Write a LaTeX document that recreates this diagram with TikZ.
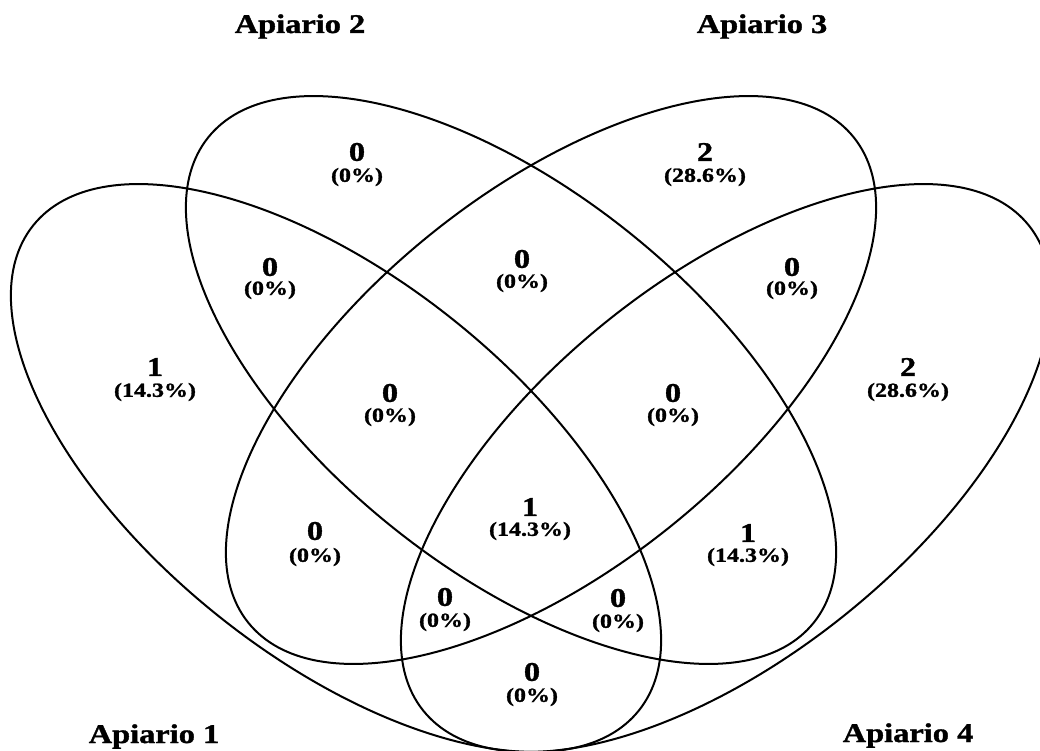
\documentclass[tikz,border=0pt]{standalone}
\usepackage{fontspec}
\setmainfont{Liberation Serif}[BoldFeatures={FakeBold=1.2}]
\usetikzlibrary{shapes.geometric}
\begin{document}
\begin{tikzpicture}[x=1pt,y=-1pt,
  venn/.style={draw, ellipse, line width=2pt, minimum width=776pt, minimum height=378pt, inner sep=0pt},
  settitle/.style={font=\fontsize{27}{30}\bfseries\selectfont, xscale=1.2, transform shape, anchor=base, inner sep=0pt},
  numlab/.style={font=\fontsize{27}{30}\bfseries\selectfont, xscale=1.2, transform shape, inner sep=0pt},
  pctlab/.style={font=\fontsize{20}{22}\bfseries\selectfont, xscale=1.2, transform shape, inner sep=0pt}]
\useasboundingbox (0,0) rectangle (1040,751);
\clip (0,0) rectangle (1040,751);
\newcommand\regionlab[6]{%
  \node[numlab] (#1n) at (#2,#3) {#4};
  \node[pctlab] (#1p) at (#2,#3+#6) {#5};}
% sets
\node[venn, rotate=-38.7] (A1) at (336,468) {};
\node[venn, rotate=-38.7] (A2) at (511,380) {};
\node[venn, rotate=38.7]  (A3) at (551,380) {};
\node[venn, rotate=38.7]  (A4) at (726,468) {};
% titles
\node[settitle] (t2) at (300,33) {Apiario 2};
\node[settitle] (t3) at (762,33) {Apiario 3};
\node[settitle] (t1) at (154,743) {Apiario 1};
\node[settitle] (t4) at (908,742) {Apiario 4};
% region labels
\regionlab{ra}{155}{367}{1}{(14.3\%)}{25}
\regionlab{rb}{357}{152}{0}{(0\%)}{25}
\regionlab{rc}{705}{152}{2}{(28.6\%)}{25}
\regionlab{rd}{908}{367}{2}{(28.6\%)}{25}
\regionlab{re}{270}{267}{0}{(0\%)}{23}
\regionlab{rf}{522}{259}{0}{(0\%)}{24}
\regionlab{rg}{792}{267}{0}{(0\%)}{23}
\regionlab{rh}{390}{393}{0}{(0\%)}{24}
\regionlab{ri}{673}{393}{0}{(0\%)}{24}
\regionlab{rj}{315}{531}{0}{(0\%)}{26}
\regionlab{rk}{530}{507}{1}{(14.3\%)}{24}
\regionlab{rl}{748}{533}{1}{(14.3\%)}{24}
\regionlab{rm}{445}{597}{0}{(0\%)}{25}
\regionlab{rn}{618}{598}{0}{(0\%)}{25}
\regionlab{ro}{532}{672}{0}{(0\%)}{25}
\end{tikzpicture}
\end{document}
